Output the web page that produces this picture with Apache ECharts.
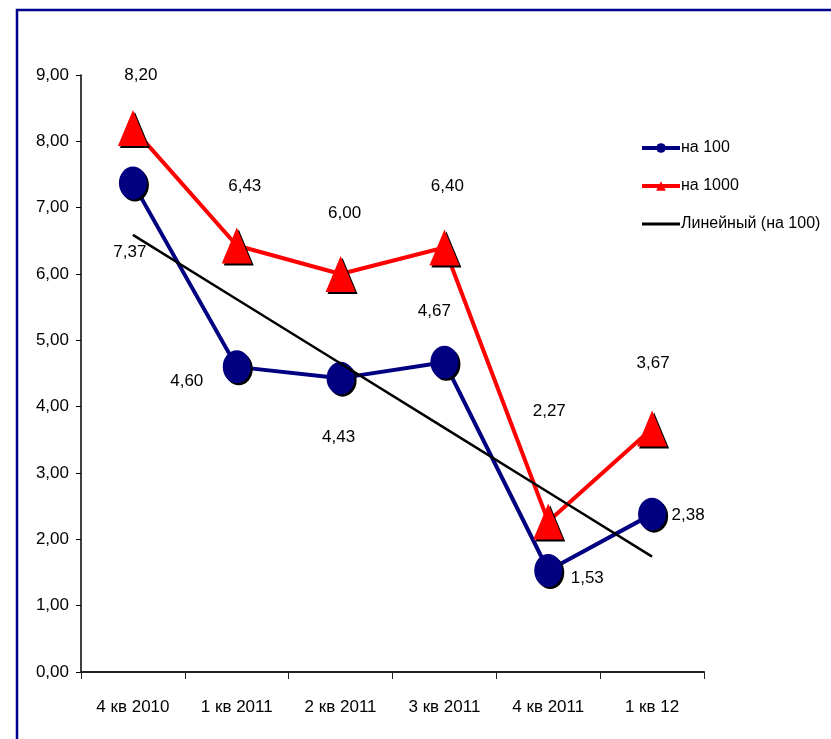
<!DOCTYPE html>
<html>
<head>
<meta charset="utf-8">
<style>
  html, body { margin: 0; padding: 0; background: #fff; }
  #chart { width: 831px; height: 739px; }
</style>
<script src="https://cdn.jsdelivr.net/npm/echarts@6/dist/echarts.min.js"></script>
</head>
<body>
<div id="chart"></div>
<script>
// Quarterly values
const categories = ['4 кв 2010', '1 кв 2011', '2 кв 2011', '3 кв 2011', '4 кв 2011', '1 кв 12'];
const per100 = [7.37, 4.60, 4.43, 4.67, 1.53, 2.38];
const per1000 = [8.20, 6.43, 6.00, 6.40, 2.27, 3.67];
const trend100 = [6.59, 5.62, 4.65, 3.68, 2.71, 1.74];
const seriesNames = ['на 100', 'на 1000', 'Линейный (на 100)'];

// Label placement around each marker (dx, dy from the marker centre)
const offsets100 = [[-3, 69], [-50, 14], [-2, 59], [-10, -51], [39, 8], [36, 1]];
const offsets1000 = [[8, -53], [8, -59], [4, -61], [3, -61], [1, -110], [1, -65]];

const FONT = '"Liberation Sans", Arial, sans-serif';
const FS = 17;
const fmt = v => v.toFixed(2).replace('.', ',');

function withLabels(values, offsets) {
  return values.map((v, i) => ({
    value: v,
    label: { offset: offsets[i] }
  }));
}

const chart = echarts.init(document.getElementById('chart'), null, { renderer: 'canvas' });

chart.setOption({
  animation: false,
  backgroundColor: '#ffffff',
  graphic: [{
    type: 'rect',
    shape: { x: 17, y: 10, width: 900, height: 900 },
    style: { fill: 'none', stroke: '#000090', lineWidth: 2.5 },
    z: 100
  }],
  grid: { left: 81, right: 127, top: 75, bottom: 67, containLabel: false },
  legend: {
    left: 640,
    top: 140,
    padding: 0,
    orient: 'vertical',
    itemGap: 22,
    itemWidth: 38,
    itemHeight: 12,
    data: [
      { name: seriesNames[0], lineStyle: { width: 4 } },
      { name: seriesNames[1], lineStyle: { width: 4 } },
      { name: seriesNames[2], lineStyle: { width: 3 }, itemStyle: { opacity: 0 } }
    ],
    textStyle: { fontFamily: FONT, fontSize: 16, color: '#000', padding: [0, 0, 0, -4] }
  },
  xAxis: {
    type: 'category',
    data: categories,
    boundaryGap: true,
    axisLine: { lineStyle: { color: '#222', width: 2 } },
    axisTick: { show: true, length: 7, lineStyle: { color: '#222', width: 1 } },
    axisLabel: { fontFamily: FONT, fontSize: FS, color: '#000', margin: 27 },
    splitLine: { show: false }
  },
  yAxis: {
    type: 'value',
    min: 0,
    max: 9,
    interval: 1,
    axisLine: { show: true, lineStyle: { color: '#000', width: 1.5 } },
    axisTick: { show: true, length: 5, lineStyle: { color: '#000' } },
    axisLabel: { fontFamily: FONT, fontSize: FS, color: '#000', margin: 12, formatter: v => fmt(v) },
    splitLine: { show: false }
  },
  series: [
    {
      name: seriesNames[0],
      type: 'line',
      data: withLabels(per100, offsets100),
      symbol: 'circle',
      symbolSize: [28, 33],
      lineStyle: { color: '#000080', width: 4 },
      itemStyle: { color: '#000080', shadowColor: '#000', shadowOffsetX: 2, shadowOffsetY: 2, shadowBlur: 0 },
      label: { show: true, position: 'inside', fontFamily: FONT, fontSize: FS, color: '#000', formatter: p => fmt(p.value) },
      z: 3
    },
    {
      name: seriesNames[1],
      type: 'line',
      data: withLabels(per1000, offsets1000),
      symbol: 'triangle',
      symbolSize: [30, 36],
      lineStyle: { color: '#ff0000', width: 4 },
      itemStyle: { color: '#ff0000', shadowColor: '#000', shadowOffsetX: 2, shadowOffsetY: 2, shadowBlur: 0 },
      label: { show: true, position: 'inside', fontFamily: FONT, fontSize: FS, color: '#000', formatter: p => fmt(p.value) },
      z: 4
    },
    {
      name: seriesNames[2],
      type: 'line',
      data: trend100,
      symbol: 'none',
      lineStyle: { color: '#000', width: 2.5 },
      itemStyle: { color: '#000' },
      z: 5
    }
  ]
});
</script>
</body>
</html>
